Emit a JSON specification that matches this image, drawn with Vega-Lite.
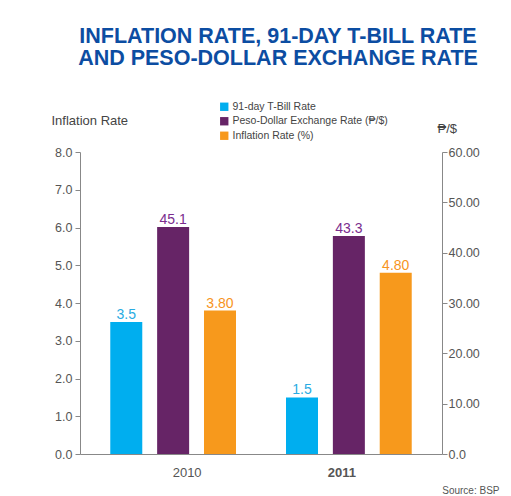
{
  "$schema": "https://vega.github.io/schema/vega-lite/v6.json",
  "width": 362,
  "height": 302,
  "padding": {"left": 51, "top": 26, "right": 5, "bottom": 5},
  "autosize": {"type": "pad"},
  "background": "white",
  "config": {
    "font": "Liberation Sans, DejaVu Sans, sans-serif",
    "view": {"stroke": null}
  },
  "title": {
    "text": ["INFLATION RATE, 91-DAY T-BILL RATE", "AND PESO-DOLLAR EXCHANGE RATE"],
    "fontSize": 21.5,
    "fontWeight": "bold",
    "color": "#0C4DA2",
    "anchor": "middle",
    "lineHeight": 22,
    "offset": 32,
    "dx": 17
  },
  "data": {
    "values": [
      {"year": "2010", "series": "91-day T-Bill Rate", "value": 3.5},
      {"year": "2010", "series": "Peso-Dollar Exchange Rate (₱/$)", "value": 45.1},
      {"year": "2010", "series": "Inflation Rate (%)", "value": 3.8},
      {"year": "2011", "series": "91-day T-Bill Rate", "value": 1.5},
      {"year": "2011", "series": "Peso-Dollar Exchange Rate (₱/$)", "value": 43.3},
      {"year": "2011", "series": "Inflation Rate (%)", "value": 4.8}
    ]
  },
  "encoding": {
    "x": {
      "field": "year",
      "type": "nominal",
      "scale": {"paddingInner": 0.2, "paddingOuter": 0.13},
      "axis": {
        "labelAngle": 0,
        "ticks": false,
        "domainColor": "#888888",
        "labelFontSize": 13,
        "labelColor": "#555555",
        "labelPadding": 12,
        "labelOffset": {"condition": {"test": "datum.label == '2010'", "value": 14}, "value": -7},
        "labelFontWeight": {"condition": {"test": "datum.label == '2011'", "value": "bold"}, "value": "normal"},
        "title": "Source: BSP",
        "titleFontSize": 10,
        "titleFontWeight": "normal",
        "titleColor": "#555555",
        "titleAlign": "right",
        "titleBaseline": "middle",
        "titleX": 419,
        "titleY": 36
      }
    },
    "xOffset": {
      "field": "series",
      "type": "nominal",
      "scale": {"domain": ["91-day T-Bill Rate", "Peso-Dollar Exchange Rate (₱/$)", "Inflation Rate (%)"]}
    },
    "color": {
      "field": "series",
      "type": "nominal",
      "scale": {
        "domain": ["91-day T-Bill Rate", "Peso-Dollar Exchange Rate (₱/$)", "Inflation Rate (%)"],
        "range": ["#00AEEF", "#662466", "#F7991C"]
      },
      "legend": {
        "orient": "none",
        "legendX": 139,
        "legendY": -50.5,
        "title": null,
        "symbolType": "square",
        "symbolSize": 70,
        "symbolStrokeWidth": 0,
        "labelFontSize": 10.5,
        "labelColor": "#444444",
        "labelOffset": 3,
        "rowPadding": 3.5
      }
    }
  },
  "layer": [
    {
      "encoding": {
        "y": {
          "field": "value",
          "type": "quantitative",
          "scale": {"domain": [0, 8], "nice": false},
          "axis": {
            "orient": "left",
            "values": [0, 1, 2, 3, 4, 5, 6, 7, 8],
            "format": ".1f",
            "grid": false,
            "labelFontSize": 12.5,
            "labelColor": "#555555",
            "domainColor": "#888888",
            "tickColor": "#888888",
            "tickSize": 5,
            "labelPadding": 3,
            "title": "Inflation Rate",
            "titleAngle": 0,
            "titleX": -29,
            "titleY": -32,
            "titleAlign": "left",
            "titleBaseline": "middle",
            "titleFontSize": 13,
            "titleFontWeight": "normal",
            "titleColor": "#444444"
          }
        }
      },
      "layer": [
        {
          "transform": [{"filter": "datum.series != 'Peso-Dollar Exchange Rate (₱/$)'"}],
          "mark": {"type": "bar", "width": 32}
        },
        {
          "transform": [{"filter": "datum.series == '91-day T-Bill Rate'"}],
          "mark": {"type": "text", "baseline": "alphabetic", "dy": -3, "fontSize": 14},
          "encoding": {"text": {"field": "value", "format": ".1f"}, "color": {"value": "#29ABE2"}}
        },
        {
          "transform": [{"filter": "datum.series == 'Inflation Rate (%)'"}],
          "mark": {"type": "text", "baseline": "alphabetic", "dy": -3, "fontSize": 14},
          "encoding": {"text": {"field": "value", "format": ".2f"}, "color": {"value": "#F7941D"}}
        }
      ]
    },
    {
      "encoding": {
        "y": {
          "field": "value",
          "type": "quantitative",
          "scale": {"domain": [0, 60], "nice": false},
          "axis": {
            "orient": "right",
            "values": [0, 10, 20, 30, 40, 50, 60],
            "labelExpr": "datum.value == 0 ? '0.0' : format(datum.value, '.2f')",
            "grid": false,
            "labelFontSize": 12.5,
            "labelColor": "#555555",
            "domainColor": "#888888",
            "tickColor": "#888888",
            "tickSize": 5,
            "labelPadding": 1,
            "title": "₱/$",
            "titleAngle": 0,
            "titleX": -5,
            "titleY": -24,
            "titleAlign": "left",
            "titleBaseline": "middle",
            "titleFontSize": 13,
            "titleFontWeight": "normal",
            "titleColor": "#444444"
          }
        }
      },
      "layer": [
        {
          "transform": [{"filter": "datum.series == 'Peso-Dollar Exchange Rate (₱/$)'"}],
          "mark": {"type": "bar", "width": 32}
        },
        {
          "transform": [{"filter": "datum.series == 'Peso-Dollar Exchange Rate (₱/$)'"}],
          "mark": {"type": "text", "baseline": "alphabetic", "dy": -3, "fontSize": 14},
          "encoding": {"text": {"field": "value", "format": ".1f"}, "color": {"value": "#7B2D8E"}}
        }
      ]
    }
  ],
  "resolve": {"scale": {"y": "independent"}}
}
